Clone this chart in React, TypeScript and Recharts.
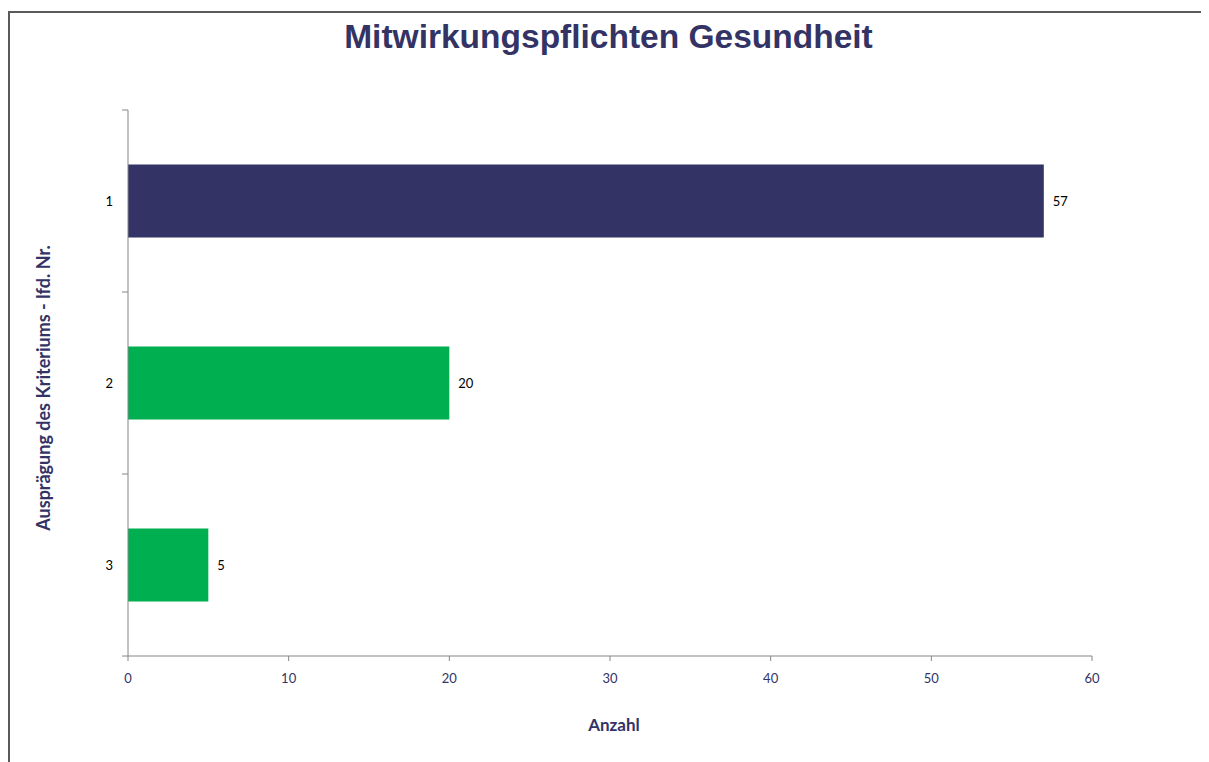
import React from "react";
import { BarChart, Bar, XAxis, YAxis, Cell, LabelList } from "recharts";

const categories = ["1", "2", "3"];
const counts = [57, 20, 5];
const barColors = ["#333366", "#00B050", "#00B050"];
const xTicks = [0, 10, 20, 30, 40, 50, 60];
const title = "Mitwirkungspflichten Gesundheit";
const yLabel = "Ausprägung des Kriteriums - lfd. Nr.";
const xLabel = "Anzahl";

const data = categories.map((c, i) => ({ cat: c, value: counts[i] }));

const NAVY = "#333366";
const AXIS = "#868686";
const FONT = "Lato, 'Open Sans', sans-serif";
const AXIS_X = 120;

const CatTick = (props: any) => {
  const { y, payload, index, visibleTicksCount } = props;
  const off = payload && typeof payload.offset === "number" && payload.offset > 0 ? payload.offset : 91;
  const last = index === visibleTicksCount - 1;
  return (
    <g>
      <line x1={AXIS_X - 6} x2={AXIS_X} y1={y - off} y2={y - off} stroke={AXIS} strokeWidth={1} />
      {last && <line x1={AXIS_X - 6} x2={AXIS_X} y1={y + off} y2={y + off} stroke={AXIS} strokeWidth={1} />}
      <text
        x={AXIS_X - 15}
        y={y}
        textAnchor="end"
        dominantBaseline="central"
        fill="#000"
        fontSize={13}
        fontFamily={FONT}
      >
        {payload.value}
      </text>
    </g>
  );
};

export default function App() {
  return (
    <div style={{ position: "relative", width: 1201, height: 754, overflow: "hidden", background: "#fff" }}>
      <div
        style={{
          position: "absolute",
          left: 0,
          top: 3,
          width: 1400,
          height: 1000,
          borderLeft: "2px solid #5a5a5a",
          borderTop: "2px solid #5a5a5a",
          pointerEvents: "none",
        }}
      />
      <div
        style={{
          position: "absolute",
          left: 0,
          width: 1201,
          top: 7,
          textAlign: "center",
          fontFamily: "'Liberation Sans', Arial, sans-serif",
          fontWeight: "bold",
          fontSize: 33.5,
          color: NAVY,
          lineHeight: "44px",
        }}
      >
        {title}
      </div>
      <BarChart
        width={1201}
        height={754}
        data={data}
        layout="vertical"
        margin={{ top: 102, right: 117, bottom: 76, left: 60 }}
        barCategoryGap="30%"
      >
        <XAxis
          type="number"
          dataKey="value"
          domain={[0, 60]}
          ticks={xTicks}
          interval={0}
          stroke={AXIS}
          tickSize={5}
          tickMargin={13}
          tick={{ fill: NAVY, fontSize: 13, fontFamily: FONT }}
          height={30}
          label={{
            value: xLabel,
            position: "bottom",
            offset: 33,
            dx: 4,
            fill: NAVY,
            fontSize: 17,
            fontWeight: "bold",
            fontFamily: FONT,
          }}
        />
        <YAxis
          type="category"
          dataKey="cat"
          width={60}
          stroke={AXIS}
          axisLine={true}
          tickLine={false}
          interval={0}
          tick={<CatTick />}
          label={{
            content: () => (
              <text
                x={35}
                y={380}
                transform="rotate(-90 35 380)"
                textAnchor="middle"
                dominantBaseline="central"
                fill={NAVY}
                fontSize={18}
                fontWeight="bold"
                fontFamily={FONT}
              >
                {yLabel}
              </text>
            ),
          }}
        />
        <Bar dataKey="value" isAnimationActive={false}>
          {data.map((d, i) => (
            <Cell key={d.cat} fill={barColors[i]} />
          ))}
          <LabelList
            dataKey="value"
            position="right"
            offset={9}
            fill="#000"
            fontSize={13}
            fontFamily={FONT}
          />
        </Bar>
      </BarChart>
    </div>
  );
}
